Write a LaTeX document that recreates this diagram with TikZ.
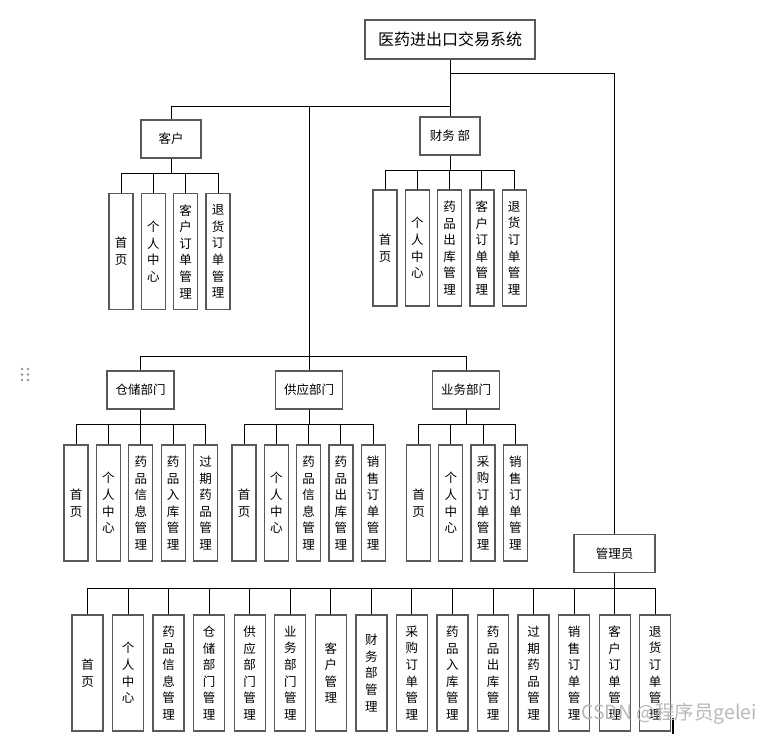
\documentclass[tikz,border=0pt]{standalone}
\usepackage{fontspec}
\setmainfont{Noto Sans CJK SC}
\usepackage{tikz}

\begin{document}
\begin{tikzpicture}[x=1pt,y=-1pt,
    box/.style={draw=black!65,line width=1.3pt,fill=white,inner sep=0pt,align=center},
    topbox/.style={box,minimum width=170pt,minimum height=39pt,font=\fontsize{16}{18}\selectfont},
    deptbox/.style={box,minimum width=#1,minimum height=38pt,font=\fontsize{12.5}{15}\selectfont},
    leafbox/.style={box,minimum width=#1,minimum height=116pt,font=\fontsize{12.5}{16.6}\selectfont},
    link/.style={draw=black,line width=0.9pt}]
    \useasboundingbox (0,0) rectangle (770,741);

    % root and first level
    \node[topbox] (sys) at (450,39.5) {医药进出口交易系统};
    \node[deptbox=60pt] (kehu) at (171,139) {客户};
    \node[deptbox=60pt] (caiwu) at (450,136) {财务 部};
    \node[deptbox=67pt] (cangchu) at (140.5,390) {仓储部门};
    \node[deptbox=67pt] (gongying) at (309,390) {供应部门};
    \node[deptbox=67pt] (yewu) at (466,390) {业务部门};
    \node[deptbox=81pt] (admin) at (614.5,553.5) {管理员};
    \coordinate (bus) at (450,106);
    \coordinate (rbus) at (450,73);
    \coordinate (hub) at (309,356);

    \draw[link] (sys.south) -- (bus);
    \draw[link] (bus) -| (kehu.north);
    \draw[link] (bus) -| (hub);
    \draw[link] (bus) -- (caiwu.north);
    \draw[link] (rbus) -| (admin.north);
    \draw[link] (hub) -| (cangchu.north);
    \draw[link] (hub) -- (gongying.north);
    \draw[link] (hub) -| (yewu.north);

    % leaves
    \foreach \i/\x/\s in {1/121/首\\页,2/153.3/个\\人\\中\\心,3/185.6/客\\户\\订\\单\\管\\理,4/218/退\\货\\订\\单\\管\\理}
        \node[leafbox=24pt] (kh\i) at (\x,251.5) {\s};
    \foreach \i/\x/\s in {1/385/首\\页,2/417.3/个\\人\\中\\心,3/449.6/药\\品\\出\\库\\管\\理,4/481.9/客\\户\\订\\单\\管\\理,5/514.2/退\\货\\订\\单\\管\\理}
        \node[leafbox=24pt] (cw\i) at (\x,248) {\s};
    \foreach \i/\x/\s in {1/76/首\\页,2/108.4/个\\人\\中\\心,3/140.8/药\\品\\信\\息\\管\\理,4/173.2/药\\品\\入\\库\\管\\理,5/205.6/过\\期\\药\\品\\管\\理}
        \node[leafbox=24pt] (cc\i) at (\x,503) {\s};
    \foreach \i/\x/\s in {1/244/首\\页,2/276.3/个\\人\\中\\心,3/308.6/药\\品\\信\\息\\管\\理,4/340.9/药\\品\\出\\库\\管\\理,5/373.2/销\\售\\订\\单\\管\\理}
        \node[leafbox=24pt] (gy\i) at (\x,503) {\s};
    \foreach \i/\x/\s in {1/418.5/首\\页,2/450.8/个\\人\\中\\心,3/483.1/采\\购\\订\\单\\管\\理,4/515.4/销\\售\\订\\单\\管\\理}
        \node[leafbox=24pt] (yw\i) at (\x,503) {\s};
    \foreach \i/\s in {0/首\\页,1/个\\人\\中\\心,2/药\\品\\信\\息\\管\\理,3/仓\\储\\部\\门\\管\\理,4/供\\应\\部\\门\\管\\理,5/业\\务\\部\\门\\管\\理,6/客\\户\\管\\理,7/财\\务\\部\\管\\理,8/采\\购\\订\\单\\管\\理,9/药\\品\\入\\库\\管\\理,10/药\\品\\出\\库\\管\\理,11/过\\期\\药\\品\\管\\理,12/销\\售\\订\\单\\管\\理,13/客\\户\\订\\单\\管\\理,14/退\\货\\订\\单\\管\\理}
        \node[leafbox=31pt] (ad\i) at (87.5+40.55*\i,673) {\s};

    \foreach \i in {1,...,4}
        \draw[link] (kehu.south) -- ++(0,15) -| (kh\i.north);
    \foreach \i in {1,...,5}
        \draw[link] (caiwu.south) -- ++(0,15) -| (cw\i.north);
    \foreach \i in {1,...,5}
        \draw[link] (cangchu.south) -- ++(0,15) -| (cc\i.north);
    \foreach \i in {1,...,5}
        \draw[link] (gongying.south) -- ++(0,15) -| (gy\i.north);
    \foreach \i in {1,...,4}
        \draw[link] (yewu.south) -- ++(0,15) -| (yw\i.north);
    \foreach \i in {0,...,14}
        \draw[link] (admin.south) -- ++(0,15) -| (ad\i.north);

    % handle dots, cursor and watermark
    \foreach \x in {22,28}
        \foreach \y in {369,374.5,380}
            \fill[gray!85] (\x,\y) circle (1.4);
    \draw[line width=1.8pt] (673,718) -- (673,734);
    \node[text=gray!55,font=\fontsize{19.5}{21}\selectfont,anchor=west,inner sep=0pt] (mark) at (581,714) {CSDN @程序员gelei};
\end{tikzpicture}
\end{document}
